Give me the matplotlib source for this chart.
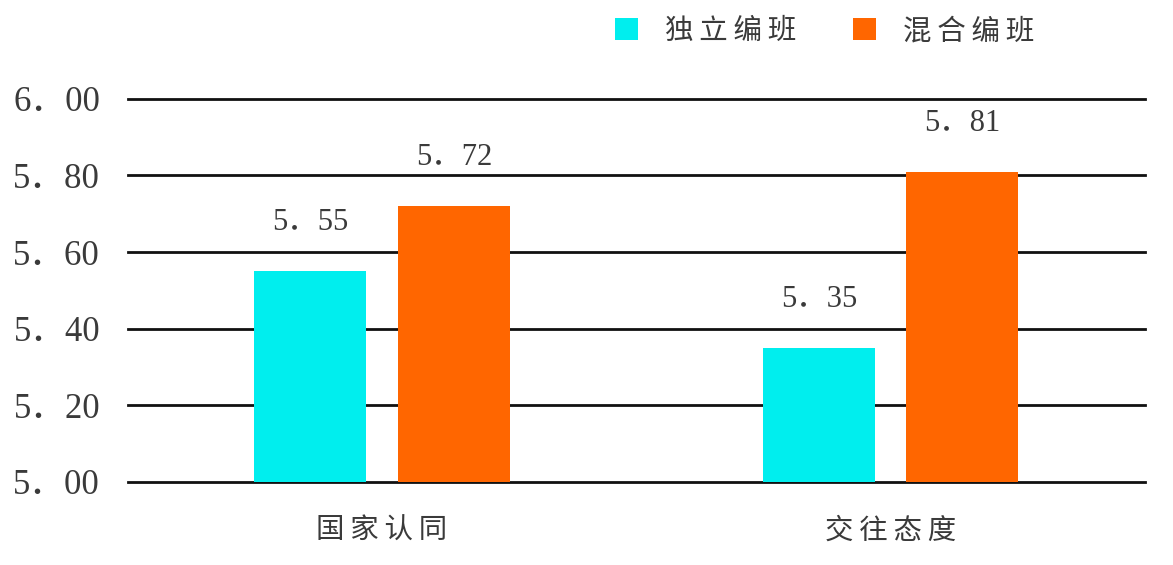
import numpy as np
import matplotlib.pyplot as plt

categories = ['国家认同', '交往态度']
series_names = ['独立编班', '混合编班']
independent = [5.55, 5.35]
mixed = [5.72, 5.81]
y_ticks = [5.00, 5.20, 5.40, 5.60, 5.80, 6.00]

colors = ['#00EEEE', '#FF6600']
num_font = ['Liberation Serif', 'Noto Sans CJK SC']
cjk_font = ['Noto Sans CJK SC', 'DejaVu Sans']


def fmt(v):
    # full-width period, like the original
    return f"{v:.2f}".replace('.', '\uff0e')


def spaced(s):
    return '\u2009'.join(s)


fig = plt.figure(figsize=(11.73, 5.65), dpi=100)
ax = fig.add_axes([0.109, 0.147, 0.867, 0.678])

x = np.arange(len(categories))
width = 0.22
offset = 0.141

b1 = ax.bar(x - offset, independent, width, color=colors[0], label=series_names[0], zorder=3)
b2 = ax.bar(x + offset, mixed, width, color=colors[1], label=series_names[1], zorder=3)

for bars, vals in ((b1, independent), (b2, mixed)):
    for rect, v in zip(bars, vals):
        ax.annotate(fmt(v), (rect.get_x() + rect.get_width() / 2, v),
                    xytext=(0, 35), textcoords='offset points',
                    ha='center', va='center', fontsize=22,
                    family=num_font, color='#3a3a3a')

ax.set_ylim(5.0, 6.0)
ax.set_xlim(-0.5, 1.5)
ax.set_yticks(y_ticks)
ax.set_yticklabels([fmt(v) for v in y_ticks], family=num_font, fontsize=25, color='#3a3a3a')
ax.set_xticks(x)
ax.set_xticklabels([spaced(c) for c in categories], family=cjk_font, fontsize=20.5, color='#3a3a3a')
ax.tick_params(axis='y', length=0, pad=20)
ax.tick_params(axis='x', length=0, pad=24)

for v in y_ticks:
    ax.axhline(v, color='#111111', linewidth=2, zorder=1, clip_on=False)

for s in ax.spines.values():
    s.set_visible(False)

fig.legend(handles=[b1, b2], labels=[spaced(n) for n in series_names], loc='center',
           bbox_to_anchor=(0.703, 0.945), ncol=2, frameon=False,
           handlelength=0.8, handleheight=0.8, handletextpad=0.95,
           columnspacing=2.0, prop={'family': cjk_font, 'size': 20.5},
           labelcolor='#3a3a3a')

fig.savefig('out.png', dpi=100)
